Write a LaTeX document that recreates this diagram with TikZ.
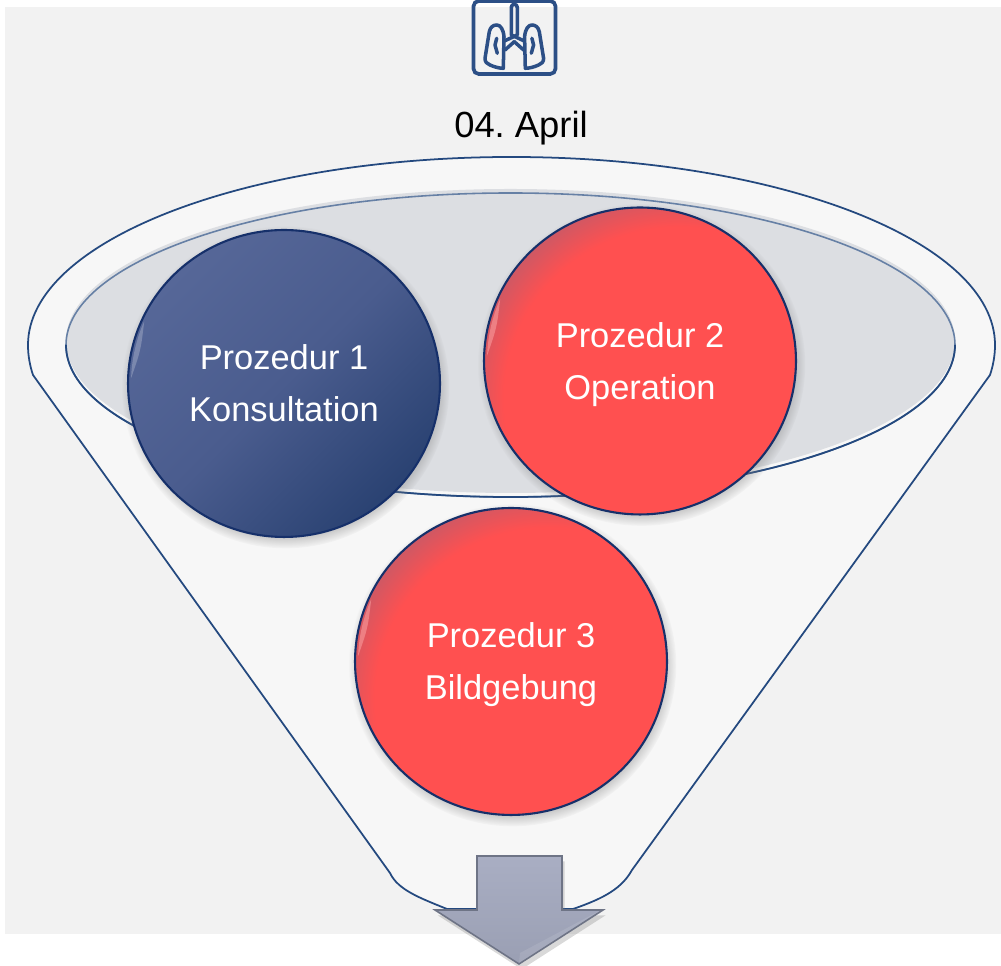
\documentclass[tikz,border=0pt]{standalone}
\usepackage{fontspec}
\setmainfont{Liberation Sans}
\usetikzlibrary{shadows, calc, shapes.geometric}
\frenchspacing

\definecolor{navy}{HTML}{16306A}
\definecolor{iconblue}{HTML}{2C4F86}
\definecolor{funnelline}{HTML}{24497F}
\definecolor{innerfill}{HTML}{DCDEE2}
\definecolor{procbluea}{HTML}{566798}
\definecolor{procblueb}{HTML}{4A5C8E}
\definecolor{procbluec}{HTML}{2A4272}
\definecolor{procreda}{HTML}{FF5050}
\definecolor{procredb}{HTML}{C45A68}
\definecolor{arrowa}{HTML}{A9AEC3}
\definecolor{arrowb}{HTML}{9A9FB3}
\definecolor{arrowline}{HTML}{6E7486}
\pgfdeclareradialshading{redglow}{\pgfpoint{8.5bp}{-8.5bp}}{color(0bp)=(procreda); color(28bp)=(procreda); color(34bp)=(procredb); color(100bp)=(procredb)}
\newcommand{\proctext}[2]{\rule{0pt}{18pt}#1\\#2\vphantom{p}}

\tikzset{
    proc/.style={ellipse, draw=navy, line width=1.2pt, minimum width=6.24cm, minimum height=6.14cm, inner sep=0pt,
        text=white, align=center, font=\fontsize{19.6}{29.5}\selectfont,
        circular drop shadow={shadow xshift=.8pt, shadow yshift=-2pt, shadow scale=1.05, opacity=.8}},
    procblue/.style={proc, top color=procbluea, bottom color=procbluec, middle color=procblueb, shading angle=45},
    procred/.style={proc, shading=redglow},
    glint/.style={opacity=.5},
    lung/.style={draw=iconblue, line width=2pt, line cap=round, line join=round}
}

\begin{document}
\begin{tikzpicture}[x=0.02cm, y=0.02cm]
    \useasboundingbox (0, 0) rectangle (1001, 966);
    \fill[black!5] (5, 32) rectangle (1001, 959);

    % funnel
    \draw[fill=black!3, draw=funnelline, line width=1pt, line join=round]
    (33, 591) -- (390, 93) .. controls (398, 76) and (420, 68) .. (447, 57)
    -- (573, 57) .. controls (605, 68) and (622, 78) .. (632, 96)
    -- (990, 591) .. controls (993, 600) and (995, 610) .. (995, 621)
    arc[start angle=0, end angle=180, x radius=483.5, y radius=188]
    .. controls (28, 610) and (30, 600) .. (33, 591);
    \fill[innerfill] (510.5, 625) ellipse (444.5 and 152);
    \draw[draw=funnelline!70!white, line width=.9pt] (510.5, 621) ellipse (444.5 and 152);
    \draw[draw=funnelline, line width=1pt] (66, 621) arc[start angle=180, end angle=360, x radius=444.5, y radius=152];

    % icon
    \draw[draw=iconblue, line width=2.1pt, rounded corners=3pt] (473.5, 892) rectangle (555.5, 965);
    \foreach \m in {1, -1} {
        \begin{scope}[shift={(514.3, 0)}, xscale=\m]
            \draw[lung] (3, 958.7) -- (3, 931) -- (-10, 925);
            \draw[lung] (-10.3, 929.3) .. controls (-11, 937) and (-14, 941) .. (-17.6, 941)
            .. controls (-21, 941) and (-24, 939) .. (-25, 934.3)
            -- (-29.3, 907.7) .. controls (-29.5, 904) and (-27, 902) .. (-24.3, 901)
            .. controls (-20, 899) and (-15, 897.7) .. (-11, 897.7) -- cycle;
            \draw[lung] (-9.3, 916) -- (0, 924.3);
            \draw[lung] (-17.6, 927.7) -- (-19.3, 921) -- (-17, 912.7);
        \end{scope}
    }
    \draw[lung] (511.3, 958.7) arc[start angle=180, end angle=0, radius=3];

    \node[font=\fontsize{20.7}{25}\selectfont] (date) at (521, 838) {04. April};

    % circles
    \node[procblue] (proc1) at (284, 582.5) {\proctext{Prozedur 1}{Konsultation}};
    \node[procred] (proc2) at (640, 605) {\proctext{Prozedur 2}{Operation}};
    \node[procred] (proc3) at (511, 304.5) {\proctext{Prozedur 3}{Bildgebung}};
    \foreach \c/\g in {proc1/procbluea!55!white, proc2/procreda!50!white, proc3/procreda!50!white} {
        \fill[glint, \g] ($(\c)+(156:153)$) arc[start angle=156, end angle=178, radius=3.06cm]
        .. controls ($(\c)+(167:147)$) .. ($(\c)+(156:153)$);
    }

    % arrow
    \draw[top color=arrowa, bottom color=arrowb, draw=arrowline,
        line width=.9pt, line join=miter, drop shadow={shadow xshift=1.5pt, shadow yshift=-3pt, opacity=.3}]
    (477, 110) -- (562, 110) -- (562, 56) -- (603, 56) -- (519, 2) -- (435, 56) -- (477, 56) -- cycle;
    \fill[white, opacity=.1] (519, 3) -- (520, 13) -- (601, 56) -- cycle;
\end{tikzpicture}
\end{document}
